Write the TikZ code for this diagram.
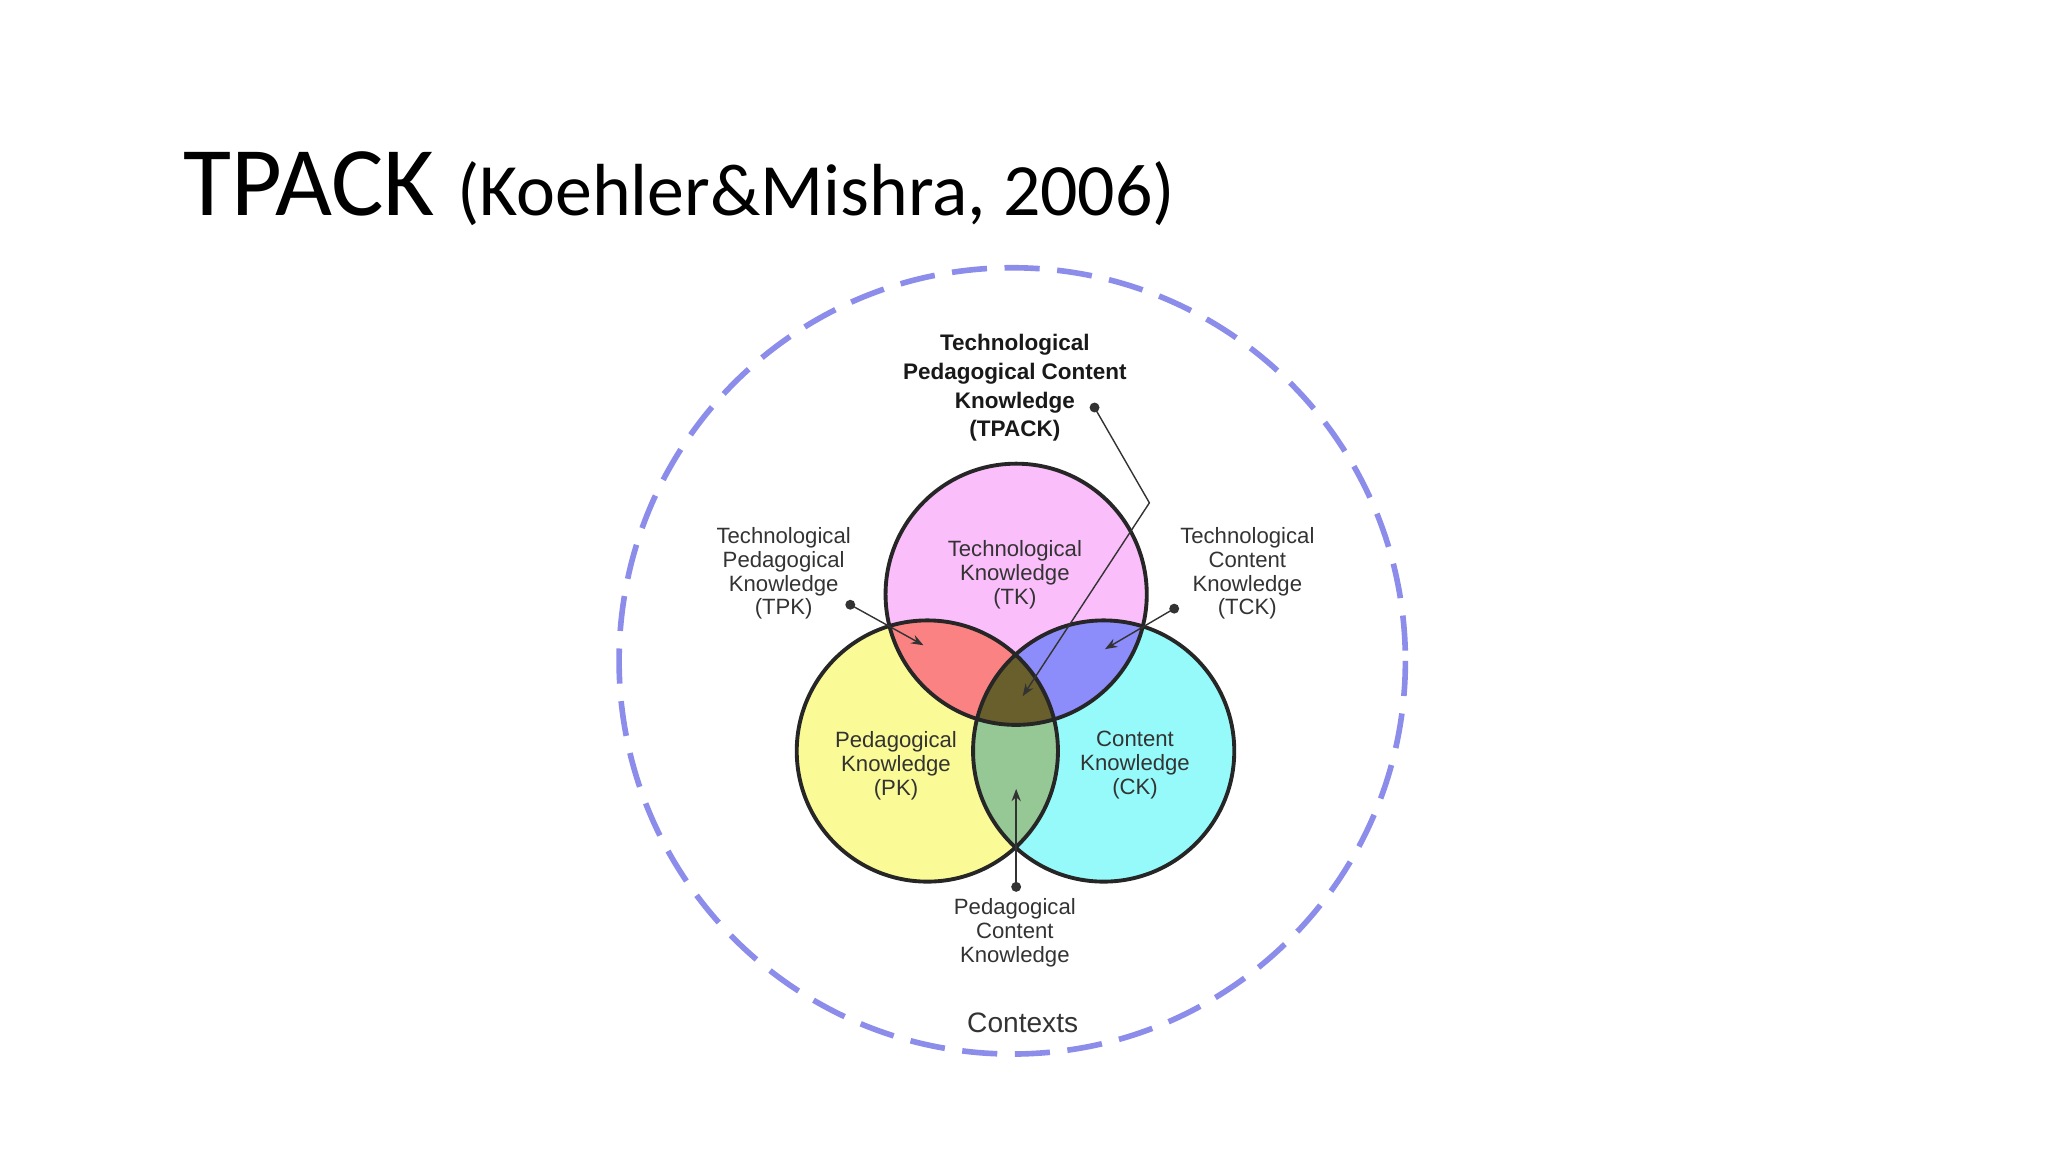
\documentclass[tikz,border=0pt]{standalone}
\usepackage{fontspec}
\setmainfont{Liberation Sans}
\newfontfamily\titlefont{Carlito}
\usetikzlibrary{arrows.meta}
\definecolor{tkc}{RGB}{250,190,250}
\definecolor{pkc}{RGB}{250,250,150}
\definecolor{ckc}{RGB}{150,250,250}
\definecolor{tpc}{RGB}{250,130,130}
\definecolor{tcc}{RGB}{140,140,250}
\definecolor{pcc}{RGB}{150,200,150}
\definecolor{allc}{RGB}{105,95,45}
\definecolor{ctxc}{RGB}{140,140,235}
\tikzset{lbl/.style={align=center,font=\fontsize{6.3}{6.8}\selectfont,text=black!80,inner sep=0pt},
 ring/.style={draw=black!85,line width=1.1pt},
 ptr/.style={black!80,line width=0.4pt,-{Stealth[length=3.5pt]}},
 dot/.style={circle,fill=black!80,inner sep=1pt}}
\begin{document}
\begin{tikzpicture}[x=0.013061cm,y=-0.013061cm]
\useasboundingbox (0,0) rectangle (1568,882);
\node[anchor=base west,inner sep=0] (title) at (140,165) {\titlefont\fontsize{28}{28}\selectfont TPACK \fontsize{21}{21}\selectfont(Koehler\&Mishra, 2006)};
\draw[ctxc,line width=1.6pt,dash pattern=on 10pt off 5pt] (775,506) circle (301);
\coordinate (T) at (778,455);
\coordinate (P) at (710,575);
\coordinate (C) at (845,575);
\fill[tkc] (T) circle (100);
\fill[pkc] (P) circle (100);
\fill[ckc] (C) circle (100);
\begin{scope}\clip (T) circle (100); \fill[tpc] (P) circle (100); \fill[tcc] (C) circle (100);\end{scope}
\begin{scope}\clip (P) circle (100); \fill[pcc] (C) circle (100);\end{scope}
\begin{scope}\clip (T) circle (100); \clip (P) circle (100); \fill[allc] (C) circle (100);\end{scope}
\draw[ring] (T) circle (100) (P) circle (100) (C) circle (100);
\node[lbl,font=\bfseries\fontsize{6.4}{8.2}\selectfont,text=black!90] (tpack) at (777,297) {Technological\\Pedagogical Content\\Knowledge\\(TPACK)};
\node[lbl] (tk) at (777,440) {Technological\\Knowledge\\(TK)};
\node[lbl] (pk) at (686,586) {Pedagogical\\Knowledge\\(PK)};
\node[lbl] (ck) at (869,586) {Content\\Knowledge\\(CK)};
\node[lbl] (tpk) at (600,439) {Technological\\Pedagogical\\Knowledge\\(TPK)};
\node[lbl] (tck) at (955,439) {Technological\\Content\\Knowledge\\(TCK)};
\node[lbl] (pck) at (777,714) {Pedagogical\\Content\\Knowledge};
\node[font=\fontsize{8}{8}\selectfont,text=black!80] (ctx) at (783,783) {Contexts};
\node[dot] (d1) at (838,312) {};
\node[dot] (d2) at (651,463) {};
\node[dot] (d3) at (899,466) {};
\node[dot] (d4) at (778,679) {};
\coordinate (bend) at (880,385);
\coordinate (e1) at (783,533);
\coordinate (e2) at (707,494);
\coordinate (e3) at (846,497);
\coordinate (e4) at (778,604);
\draw[ptr] (d1.center) -- (bend) -- (e1);
\draw[ptr] (d2.center) -- (e2);
\draw[ptr] (d3.center) -- (e3);
\draw[ptr] (d4.center) -- (e4);
\end{tikzpicture}
\end{document}
